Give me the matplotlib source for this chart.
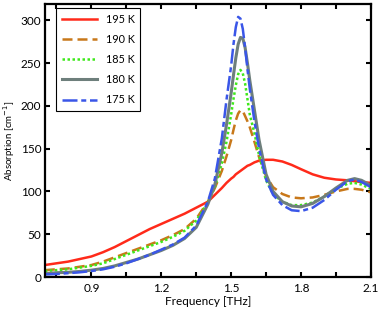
import numpy as np
import matplotlib
matplotlib.use('Agg')
import matplotlib.pyplot as plt
from matplotlib.ticker import MultipleLocator

plt.rcParams['font.family'] = ['Lato', 'DejaVu Sans']

# frequency grid [THz] and absorption [cm^-1]
freq = [0.70, 0.75, 0.80, 0.85, 0.90, 0.95, 1.00, 1.05, 1.10, 1.15, 1.20, 1.25,
        1.30, 1.35, 1.40, 1.43, 1.46, 1.48, 1.50, 1.51, 1.52, 1.53, 1.54, 1.55,
        1.56, 1.57, 1.58, 1.60, 1.62, 1.65, 1.68, 1.72, 1.76, 1.80, 1.85, 1.90,
        1.95, 2.00, 2.03, 2.06, 2.10]

abs_195 = [14, 16, 18, 21, 24, 29, 35, 42, 49, 56, 62, 68,
           74, 81, 88, 96, 104, 110, 115, 117, 120, 122, 124, 126,
           128, 130, 131, 134, 136, 137, 137, 135, 131, 126, 120, 116,
           114, 113, 112, 111, 110]
abs_190 = [8, 9, 10, 12, 14, 18, 23, 28, 33, 38, 43, 49,
           56, 68, 88, 104, 124, 141, 160, 172, 183, 191, 195, 194,
           188, 182, 175, 158, 140, 118, 105, 97, 93, 92, 93, 96,
           100, 103, 103, 102, 99]
abs_185 = [7, 8, 9, 11, 13, 16, 21, 26, 31, 36, 41, 47,
           54, 66, 87, 105, 133, 158, 190, 208, 224, 237, 242, 238,
           226, 208, 190, 168, 142, 113, 97, 88, 84, 84, 87, 94,
           103, 109, 110, 108, 103]
abs_180 = [4, 5, 5.5, 6.5, 8, 10, 13, 17, 21, 26, 31, 37,
           45, 58, 85, 108, 145, 178, 215, 236, 256, 272, 280, 279,
           268, 250, 230, 195, 160, 120, 100, 88, 83, 82, 86, 94,
           104, 113, 115, 113, 107]
abs_175 = [3, 3.5, 4.5, 5.5, 7, 9, 12, 16, 21, 26, 32, 38,
           46, 60, 88, 115, 162, 207, 247, 272, 292, 304, 302, 290,
           268, 243, 220, 182, 150, 114, 96, 84, 78, 77, 81, 90,
           102, 112, 114, 111, 105]

labels = ['195 K', '190 K', '185 K', '180 K', '175 K']

fig = plt.figure(figsize=(3.8, 3.13), dpi=100)
ax = fig.add_axes([0.118, 0.115, 0.858, 0.872])

ax.plot(freq, abs_195, color='#ff2a1a', lw=1.8, label=labels[0])
ax.plot(freq, abs_190, color='#c8781a', lw=1.8, ls=(0, (4, 2)), label=labels[1])
ax.plot(freq, abs_185, color='#3ee81a', lw=1.8, ls=(0, (1, 1)), label=labels[2])
ax.plot(freq, abs_180, color='#6e7f7c', lw=2.2, label=labels[3])
ax.plot(freq, abs_175, color='#3a56e8', lw=1.8, ls=(0, (6, 1.5, 2, 1.5)), label=labels[4])

ax.set_xlim(0.7, 2.1)
ax.set_ylim(0, 319)
ax.xaxis.set_minor_locator(MultipleLocator(0.15))
ax.yaxis.set_major_locator(MultipleLocator(50))
ax.set_xticks([0.9, 1.2, 1.5, 1.8, 2.1])
ax.set_xticklabels(['0.9', '1.2', '1.5', '1.8', '2.1'])

ax.tick_params(which='both', direction='in', top=True, right=True,
               length=3.5, width=1.5, labelsize=8.5, pad=4)
ax.tick_params(axis='y', pad=2.5)
for s in ax.spines.values():
    s.set_linewidth(1.6)

ax.set_xlabel('Frequency [THz]', fontsize=8.5, labelpad=2)
ax.set_ylabel('Absorption [cm$^{-1}$]', fontsize=7)
ax.yaxis.set_label_coords(-0.085, 0.5)

leg = ax.legend(loc='upper left', fontsize=7.8, fancybox=False, edgecolor='black',
                framealpha=1, handlelength=3.3, borderaxespad=0.0,
                labelspacing=0.85, borderpad=0.5, bbox_to_anchor=(0.035, 0.985))
leg.get_frame().set_linewidth(0.8)

fig.savefig('out.png', dpi=100)
